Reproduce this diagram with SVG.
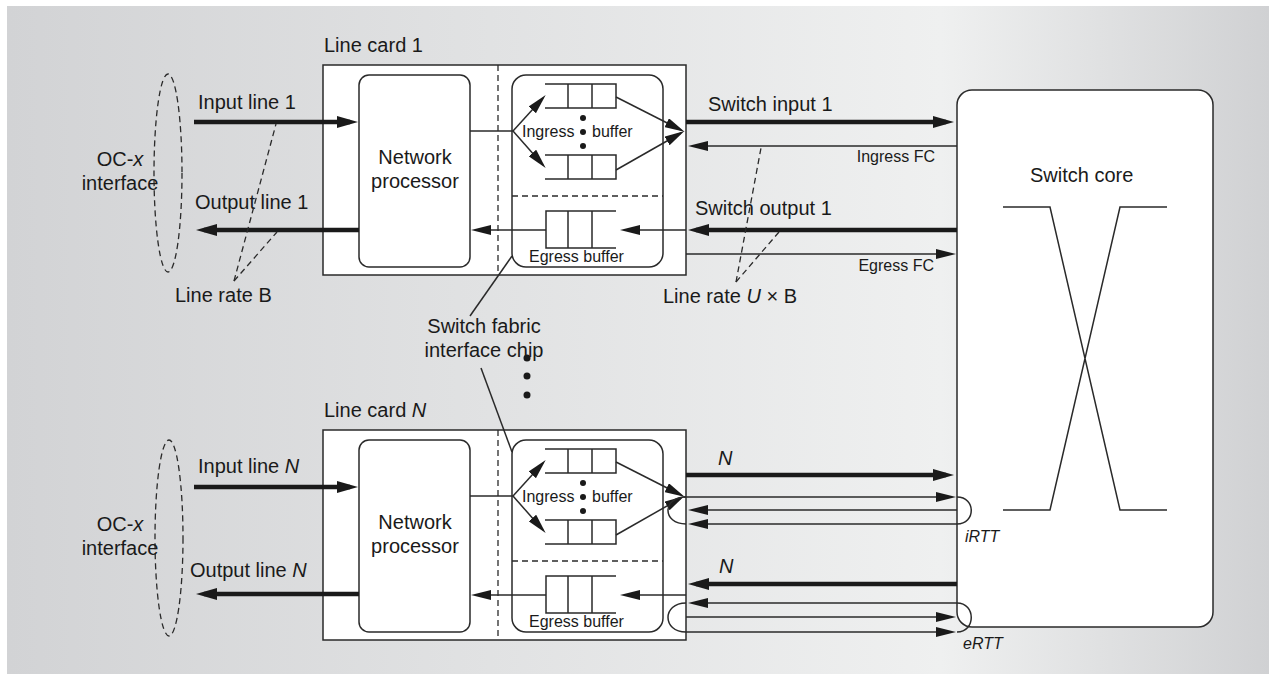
<svg xmlns="http://www.w3.org/2000/svg" width="1269" height="674" viewBox="0 0 1269 674">
  <defs>
    <linearGradient id="bg" x1="7" y1="0" x2="1269" y2="0" gradientUnits="userSpaceOnUse">
      <stop offset="0" stop-color="#d2d3d5"/>
      <stop offset="0.74" stop-color="#eff0f0"/>
      <stop offset="1" stop-color="#d0d1d3"/>
    </linearGradient>
    <!-- filled arrowhead for the heavy data lines -->
    <marker id="ah" viewBox="0 0 21 12" markerWidth="21" markerHeight="12" refX="13" refY="6" orient="auto" markerUnits="userSpaceOnUse">
      <path d="M0,0 L21,6 L0,12 z" fill="#1a1a1a"/>
    </marker>
    <!-- filled arrowhead for thin lines -->
    <marker id="as" viewBox="0 0 20 10" markerWidth="20" markerHeight="10" refX="16" refY="5" orient="auto" markerUnits="userSpaceOnUse">
      <path d="M0,0 L20,5 L0,10 z" fill="#1a1a1a"/>
    </marker>
    <style>
      text { font-family: "Liberation Sans", Arial, sans-serif; fill: #1a1a1a; }
      .lbl { font-size: 20px; }
      .sm { font-size: 16px; }
      .it { font-style: italic; }
      .mid { text-anchor: middle; }
      .end { text-anchor: end; }
      .box { fill: #ffffff; stroke: #2a2a2a; stroke-width: 1.5; }
      .ln { fill: none; stroke: #2a2a2a; stroke-width: 1.5; }
      .thick { fill: none; stroke: #1a1a1a; stroke-width: 4.5; }
      .dash { fill: none; stroke: #2a2a2a; stroke-width: 1.3; stroke-dasharray: 6 4; }
      .dot { fill: #1a1a1a; }
    </style>
    <!-- one line card: framing box, network processor, switch fabric interface chip -->
    <g id="card">
      <rect class="box" x="323" y="65" width="363" height="210"/>
      <rect class="box" x="359" y="75" width="111" height="192" rx="10"/>
      <line class="dash" x1="498" y1="65" x2="498" y2="275"/>
      <rect class="box" x="512" y="75" width="151" height="192" rx="14"/>
      <line class="dash" x1="512" y1="196" x2="663" y2="196"/>
      <!-- ingress queues (open on the left) -->
      <path class="ln" d="M545,84 H616 V108 H545 M568,84 V108 M592,84 V108"/>
      <path class="ln" d="M545,155 H616 V179 H545 M568,155 V179 M592,155 V179"/>
      <circle class="dot" cx="583" cy="118" r="3"/>
      <circle class="dot" cx="583" cy="132" r="3"/>
      <circle class="dot" cx="583" cy="146" r="3"/>
      <text class="sm" x="522" y="137">Ingress</text>
      <text class="sm" x="592" y="137">buffer</text>
      <!-- fan-out from the network processor -->
      <line class="ln" x1="470" y1="131" x2="513" y2="131"/>
      <line class="ln" x1="513" y1="131" x2="543" y2="98" marker-end="url(#as)"/>
      <line class="ln" x1="513" y1="131" x2="543" y2="165" marker-end="url(#as)"/>
      <!-- fan-in towards the switch -->
      <line class="ln" x1="616" y1="97" x2="681" y2="130" marker-end="url(#as)"/>
      <line class="ln" x1="616" y1="170" x2="681" y2="133" marker-end="url(#as)"/>
      <!-- egress queue (open on the right) -->
      <path class="ln" d="M616,211 H546 V248 H616 M568,211 V248 M592,211 V248"/>
      <text class="sm" x="529" y="262">Egress buffer</text>
      <line class="ln" x1="686" y1="230" x2="624" y2="230" marker-end="url(#as)"/>
      <line class="ln" x1="546" y1="230" x2="475" y2="230" marker-end="url(#as)"/>
      <text class="lbl mid" x="415" y="164">Network</text>
      <text class="lbl mid" x="415" y="188">processor</text>
    </g>
  </defs>

  <rect x="7" y="6" width="1262" height="668" fill="url(#bg)"/>

  <!-- switch core -->
  <g id="switch-core">
    <rect class="box" x="957" y="90" width="256" height="537" rx="15"/>
    <text class="lbl" x="1030" y="182">Switch core</text>
    <path class="ln" d="M1003,207 H1050 L1120,510 H1167 M1003,510 H1050 L1120,207 H1167"/>
  </g>

  <!-- line card 1 -->
  <g id="line-card-1">
    <text class="lbl" x="324" y="52">Line card 1</text>
    <use href="#card"/>
  </g>

  <!-- line card N -->
  <g id="line-card-N">
    <text class="lbl" x="324" y="417">Line card <tspan class="it">N</tspan></text>
    <use href="#card" transform="translate(0,365)"/>
  </g>

  <!-- OC-x interfaces -->
  <g id="oc-interface-1">
    <ellipse class="dash" cx="168" cy="173" rx="14" ry="99"/>
    <text class="lbl mid" x="120" y="166">OC-<tspan class="it">x</tspan></text>
    <text class="lbl mid" x="120" y="190">interface</text>
  </g>
  <g id="oc-interface-N">
    <ellipse class="dash" cx="169" cy="538" rx="14" ry="98"/>
    <text class="lbl mid" x="120" y="531">OC-<tspan class="it">x</tspan></text>
    <text class="lbl mid" x="120" y="555">interface</text>
  </g>

  <!-- switch fabric interface chip callout -->
  <g id="sfic-label">
    <text class="lbl mid" x="484" y="333">Switch fabric</text>
    <text class="lbl mid" x="484" y="357">interface chip</text>
    <line class="ln" x1="512" y1="256" x2="470" y2="316"/>
    <line class="ln" x1="481" y1="368" x2="512" y2="452"/>
    <circle class="dot" cx="527" cy="358" r="3.5"/>
    <circle class="dot" cx="527" cy="376" r="3.5"/>
    <circle class="dot" cx="527" cy="395" r="3.5"/>
  </g>

  <g id="connectors">
    <!-- card 1, line side -->
    <line class="thick" x1="194" y1="122" x2="350" y2="122" marker-end="url(#ah)"/>
    <line class="thick" x1="359" y1="230" x2="204" y2="230" marker-end="url(#ah)"/>
    <text class="lbl" x="198" y="109">Input line 1</text>
    <text class="lbl" x="195" y="209">Output line 1</text>
    <line class="dash" x1="234" y1="281" x2="276" y2="124"/>
    <line class="dash" x1="234" y1="281" x2="277" y2="232"/>
    <text class="lbl" x="175" y="302">Line rate B</text>

    <!-- card 1, switch side -->
    <line class="thick" x1="686" y1="122" x2="946" y2="122" marker-end="url(#ah)"/>
    <text class="lbl" x="708" y="111">Switch input 1</text>
    <line class="ln" x1="957" y1="146" x2="692" y2="146" marker-end="url(#as)"/>
    <text class="sm end" x="935" y="162">Ingress FC</text>
    <line class="thick" x1="957" y1="230" x2="696" y2="230" marker-end="url(#ah)"/>
    <text class="lbl" x="695" y="215">Switch output 1</text>
    <line class="ln" x1="686" y1="254" x2="952" y2="254" marker-end="url(#as)"/>
    <text class="sm end" x="934" y="271">Egress FC</text>
    <line class="dash" x1="736" y1="282" x2="761" y2="148"/>
    <line class="dash" x1="736" y1="282" x2="779" y2="232"/>
    <text class="lbl" x="663" y="303">Line rate <tspan class="it">U</tspan> × B</text>

    <!-- card N, line side -->
    <line class="thick" x1="194" y1="487" x2="350" y2="487" marker-end="url(#ah)"/>
    <line class="thick" x1="359" y1="594" x2="204" y2="594" marker-end="url(#ah)"/>
    <text class="lbl" x="198" y="473">Input line <tspan class="it">N</tspan></text>
    <text class="lbl" x="190" y="577">Output line <tspan class="it">N</tspan></text>

    <!-- card N, switch side: ingress -->
    <line class="thick" x1="686" y1="475" x2="946" y2="475" marker-end="url(#ah)"/>
    <text class="lbl it" x="718" y="465">N</text>
    <line class="ln" x1="684" y1="497" x2="952" y2="497" marker-end="url(#as)"/>
    <line class="ln" x1="957" y1="510" x2="692" y2="510" marker-end="url(#as)"/>
    <line class="ln" x1="957" y1="524" x2="692" y2="524" marker-end="url(#as)"/>
    <path class="ln" d="M686,497 C662,497 662,524 686,524"/>
    <path class="ln" d="M957,497 C976,497 976,524 957,524"/>
    <text class="sm it" x="965" y="542">iRTT</text>

    <!-- card N, switch side: egress -->
    <line class="thick" x1="957" y1="584" x2="696" y2="584" marker-end="url(#ah)"/>
    <text class="lbl it" x="719" y="573">N</text>
    <line class="ln" x1="957" y1="603" x2="692" y2="603" marker-end="url(#as)"/>
    <line class="ln" x1="686" y1="617" x2="952" y2="617" marker-end="url(#as)"/>
    <line class="ln" x1="686" y1="632" x2="952" y2="632" marker-end="url(#as)"/>
    <path class="ln" d="M686,603 C662,603 662,632 686,632"/>
    <path class="ln" d="M957,603 C976,603 976,632 957,632"/>
    <text class="sm it" x="963" y="649">eRTT</text>
  </g>
</svg>
